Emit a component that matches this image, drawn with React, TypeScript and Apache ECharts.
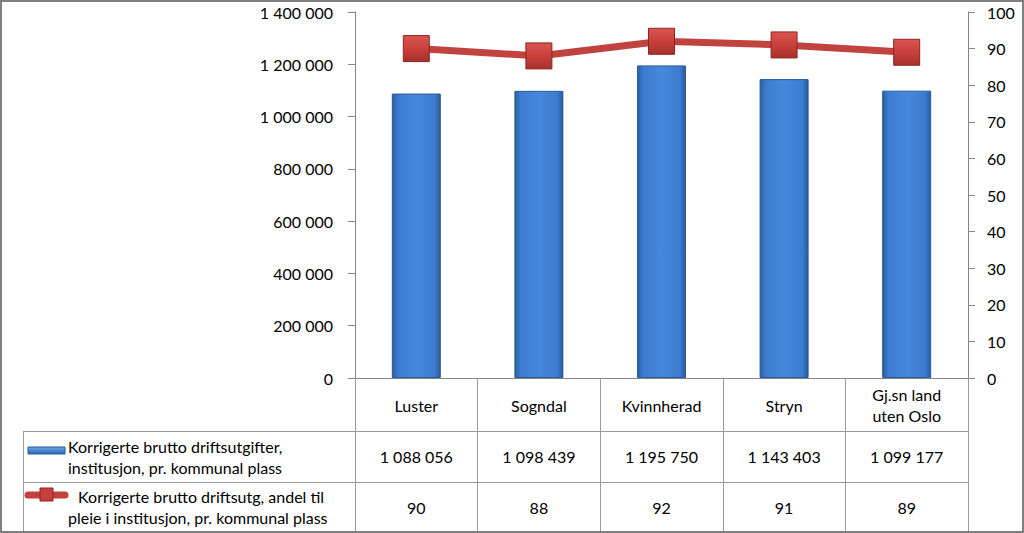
import React, { useEffect, useRef } from "react";
import * as echarts from "echarts";

const categories = ["Luster", "Sogndal", "Kvinnherad", "Stryn", "Gj.sn land\nuten Oslo"];
const costPerPlace = [1088056, 1098439, 1195750, 1143403, 1099177];
const careShare = [90, 88, 92, 91, 89];
const seriesNames = [
  "Korrigerte brutto driftsutgifter, institusjon, pr. kommunal plass",
  "Korrigerte brutto driftsutg, andel til pleie i institusjon, pr. kommunal plass",
];
const legendLines1 = ["Korrigerte brutto driftsutgifter,", "institusjon, pr. kommunal plass"];
const legendLines2 = [" Korrigerte brutto driftsutg, andel til", "pleie i institusjon, pr. kommunal plass"];

const FONT = "Lato, 'Open Sans', sans-serif";
const fmt = (v: number) => String(v).replace(/\B(?=(\d{3})+(?!\d))/g, " ");

const W = 1024;
const H = 533;
const GL = 355;
const GR = 968;
const GT = 12;
const GB = 378;
const GRID_COLOR = "#9a9a9a";

export default function App() {
  const ref = useRef<HTMLDivElement>(null);
  useEffect(() => {
    document.body.style.margin = "0";
    const chart = echarts.init(ref.current!, null, { renderer: "svg" });
    const txt = { fontFamily: FONT, fontSize: 16, color: "#000" };
    const hline = (y: number, x1: number, x2: number) => ({
      type: "line",
      shape: { x1, y1: y + 0.5, x2, y2: y + 0.5 },
      style: { stroke: GRID_COLOR, lineWidth: 1 },
      silent: true,
    });
    chart.setOption({
      animation: false,
      backgroundColor: "#fff",
      grid: { left: GL, right: W - GR, top: GT, bottom: H - GB, containLabel: false },
      xAxis: [
        {
          type: "category",
          data: categories,
          axisLine: { show: true, lineStyle: { color: "#868686", width: 1 } },
          axisTick: { show: true, length: 153, interval: 0, lineStyle: { color: GRID_COLOR } },
          axisLabel: { ...txt, margin: 27, verticalAlign: "middle", lineHeight: 21, interval: 0 },
        },
        {
          type: "category",
          data: categories,
          position: "bottom",
          offset: 51,
          axisLine: { show: false },
          axisTick: { show: false },
          axisLabel: {
            ...txt,
            margin: 27,
            verticalAlign: "middle",
            interval: 0,
            formatter: (_v: string, i: number) => fmt(costPerPlace[i]),
          },
        },
        {
          type: "category",
          data: categories,
          position: "bottom",
          offset: 102,
          axisLine: { show: false },
          axisTick: { show: false },
          axisLabel: {
            ...txt,
            margin: 27,
            verticalAlign: "middle",
            interval: 0,
            formatter: (_v: string, i: number) => String(careShare[i]),
          },
        },
      ],
      yAxis: [
        {
          type: "value",
          min: 0,
          max: 1400000,
          interval: 200000,
          axisLine: { show: true, lineStyle: { color: "#868686" } },
          axisTick: { show: true, length: 7, lineStyle: { color: "#868686" } },
          splitLine: { show: false },
          axisLabel: { ...txt, margin: 22, formatter: (v: number) => fmt(v) },
        },
        {
          type: "value",
          min: 0,
          max: 100,
          interval: 10,
          position: "right",
          axisLine: { show: true, lineStyle: { color: "#868686" } },
          axisTick: { show: true, length: 7, lineStyle: { color: "#868686" } },
          splitLine: { show: false },
          axisLabel: { ...txt, margin: 19 },
        },
      ],
      series: [
        {
          name: seriesNames[0],
          type: "bar",
          yAxisIndex: 0,
          data: costPerPlace,
          barWidth: 49,
          itemStyle: {
            color: new echarts.graphic.LinearGradient(0, 0, 1, 0, [
              { offset: 0, color: "#2b5ea6" },
              { offset: 0.12, color: "#3c7cd0" },
              { offset: 0.5, color: "#4689dc" },
              { offset: 0.88, color: "#3c7cd0" },
              { offset: 1, color: "#2a5aa0" },
            ]),
            borderColor: "#2c5a98",
            borderWidth: 1,
          },
        },
        {
          name: seriesNames[1],
          type: "line",
          yAxisIndex: 1,
          data: careShare,
          symbol: "rect",
          symbolSize: 26,
          z: 5,
          lineStyle: { color: "#c0433f", width: 7 },
          itemStyle: {
            color: new echarts.graphic.LinearGradient(0, 0, 0, 1, [
              { offset: 0, color: "#dc5450" },
              { offset: 0.5, color: "#c8403c" },
              { offset: 1, color: "#a8302c" },
            ]),
            borderColor: "#8c2522",
            borderWidth: 1,
          },
        },
      ],
      graphic: [
        {
          type: "rect",
          shape: { x: 1, y: 1, width: W - 2, height: H - 2 },
          style: { fill: "none", stroke: "#7f7f7f", lineWidth: 2 },
          silent: true,
          z: 100,
        },
        hline(431, 23, GR),
        hline(482, 23, GR),
        hline(531, 23, GR),
        {
          type: "line",
          shape: { x1: 23.5, y1: 431, x2: 23.5, y2: 532 },
          style: { stroke: GRID_COLOR, lineWidth: 1 },
          silent: true,
        },
        {
          type: "rect",
          shape: { x: 28, y: 447, width: 37, height: 7 },
          style: {
            fill: new echarts.graphic.LinearGradient(0, 0, 0, 1, [
              { offset: 0, color: "#6aa5ec" },
              { offset: 1, color: "#2f66b0" },
            ]),
            stroke: "#2c5a98",
            lineWidth: 1,
          },
        },
        {
          type: "line",
          shape: { x1: 28, y1: 495, x2: 65, y2: 495 },
          style: { stroke: "#c0433f", lineWidth: 7, lineCap: "round" },
        },
        {
          type: "rect",
          shape: { x: 40, y: 488, width: 13, height: 13 },
          style: { fill: "#c8403c", stroke: "#8c2522", lineWidth: 1 },
        },
        { type: "text", x: 68, y: 446, style: { text: legendLines1[0], font: `16px ${FONT}`, fill: "#000", textVerticalAlign: "middle" } },
        { type: "text", x: 68, y: 467, style: { text: legendLines1[1], font: `16px ${FONT}`, fill: "#000", textVerticalAlign: "middle" } },
        { type: "text", x: 74, y: 496, style: { text: legendLines2[0], font: `16px ${FONT}`, fill: "#000", textVerticalAlign: "middle" } },
        { type: "text", x: 68, y: 517, style: { text: legendLines2[1], font: `16px ${FONT}`, fill: "#000", textVerticalAlign: "middle" } },
      ],
    });
    return () => chart.dispose();
  }, []);
  return <div ref={ref} style={{ width: W, height: H }} />;
}
